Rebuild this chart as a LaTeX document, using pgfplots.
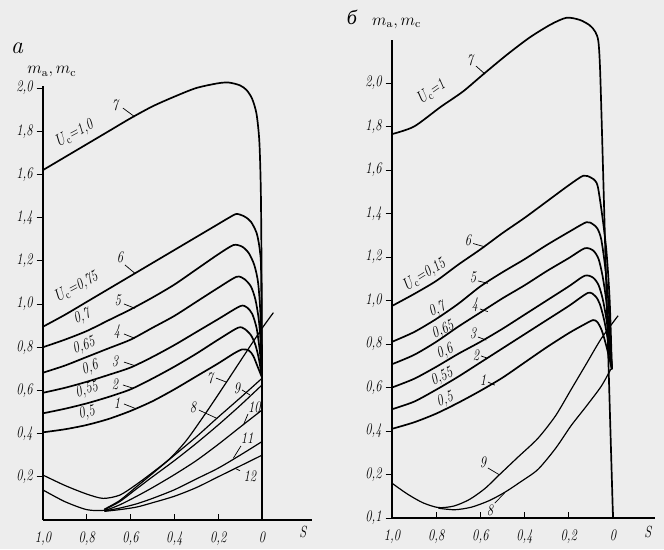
\documentclass[border=0pt]{standalone}
\usepackage{fontspec}
\usepackage{pgfplots}
\pgfplotsset{compat=1.18}
\newfontfamily\cyr{Liberation Serif}
\newcommand{\lbl}{\fontsize{11.5}{13}\selectfont\itshape}
\tikzset{ldr/.style={black, line width=0.5pt},
  tx/.style={font=\lbl, xscale=0.78, inner sep=1pt}}
\begin{document}
\begin{tikzpicture}
\useasboundingbox (0,0) rectangle (16.6,13.725);
\fill[black!7] (0,0) rectangle (16.6,13.725);
\pgfplotsset{
  panel/.style={
    x dir=reverse,
    axis lines=left,
    axis line style={-, line width=0.9pt, black},
    clip=false,
    tick align=outside,
    major tick length=1.6mm,
    tick style={black, line width=0.7pt},
    major x tick style={yshift=1.6mm},
    ticklabel style={font=\lbl, xscale=0.78},
    anchor=south west,
  },
  crv/.style={black, line width=1.2pt, smooth, tension=0.45},
  thn/.style={black, line width=0.85pt, smooth, tension=0.45},
}
% ---------------- panel a ----------------
\begin{axis}[panel, at={(1.075cm,0.725cm)}, x=5.475cm, y=5.4cm,
  xmin=-0.228, xmax=1.0, ymin=0, ymax=2.01,
  xtick={1,0.8,0.6,0.4,0.2,0}, xticklabels={{1,0},{0,8},{0,6},{0,4},{0,2},0},
  ytick={0.2,0.4,0.6,0.8,1.0,1.2,1.4,1.6,1.8,2.0},
  yticklabels={{0,2},{0,4},{0,6},{0,8},{1,0},{1,2},{1,4},{1,6},{1,8},{2,0}}]
% curve 7 (Uc=1.0)
\addplot[crv] coordinates {(1,1.62)(0.9,1.68)(0.8,1.74)(0.7,1.80)(0.6,1.86)(0.5,1.915)(0.4,1.96)(0.3,2.0)(0.2,2.022)(0.15,2.025)(0.1,2.012)(0.07,1.99)(0.045,1.95)(0.025,1.88)(0.012,1.75)(0.005,1.5)(0.001,1.0)(0,0.5)(0,0)};
% curve 6 (0.75)
\addplot[crv] coordinates {(1,0.895)(0.9,0.95)(0.8,1.01)(0.7,1.07)(0.6,1.13)(0.5,1.19)(0.4,1.25)(0.3,1.31)(0.2,1.37)(0.15,1.40)(0.116,1.417)(0.08,1.405)(0.05,1.38)(0.024,1.327)(0.01,1.25)(0.004,1.15)(0,0.66)};
% curve 5 (0.7)
\addplot[crv] coordinates {(1,0.80)(0.9,0.835)(0.8,0.875)(0.7,0.925)(0.6,0.975)(0.5,1.03)(0.4,1.09)(0.3,1.16)(0.2,1.23)(0.13,1.273)(0.09,1.265)(0.06,1.235)(0.035,1.18)(0.018,1.1)(0.007,0.95)(0,0.66)};
% curve 4 (0.65)
\addplot[crv] coordinates {(1,0.682)(0.9,0.715)(0.8,0.755)(0.7,0.795)(0.6,0.835)(0.5,0.89)(0.4,0.945)(0.3,1.01)(0.2,1.075)(0.116,1.126)(0.08,1.115)(0.05,1.08)(0.03,1.02)(0.015,0.93)(0.006,0.82)(0,0.66)};
% curve 3 (0.6)
\addplot[crv] coordinates {(1,0.589)(0.9,0.612)(0.8,0.64)(0.7,0.672)(0.6,0.706)(0.5,0.755)(0.4,0.81)(0.3,0.87)(0.2,0.93)(0.1,0.99)(0.07,0.985)(0.045,0.955)(0.025,0.89)(0.012,0.8)(0.004,0.72)(0,0.66)};
% curve 2 (0.55)
\addplot[crv] coordinates {(1,0.494)(0.9,0.515)(0.8,0.54)(0.7,0.57)(0.6,0.605)(0.5,0.655)(0.4,0.71)(0.3,0.77)(0.2,0.835)(0.11,0.89)(0.08,0.885)(0.05,0.855)(0.03,0.81)(0.015,0.75)(0.005,0.69)(0,0.66)};
% curve 1 (0.5)
\addplot[crv] coordinates {(1,0.406)(0.9,0.42)(0.8,0.44)(0.7,0.468)(0.6,0.505)(0.5,0.55)(0.4,0.605)(0.3,0.665)(0.2,0.725)(0.13,0.77)(0.09,0.79)(0.06,0.785)(0.04,0.76)(0.02,0.71)(0,0.66)};
% lower curves 7-12
\addplot[thn] coordinates {(1,0.208)(0.9,0.16)(0.8,0.12)(0.725,0.10)(0.65,0.115)(0.58,0.16)(0.5,0.22)(0.42,0.285)(0.344,0.37)(0.25,0.505)(0.161,0.64)(0.08,0.765)(0,0.887)(-0.052,0.96)};
\addplot[thn] coordinates {(0.72,0.05)(0.65,0.09)(0.572,0.155)(0.5,0.215)(0.4,0.3)(0.3,0.385)(0.207,0.47)(0.1,0.565)(0,0.656)};
\addplot[thn] coordinates {(0.72,0.048)(0.65,0.085)(0.572,0.145)(0.5,0.2)(0.4,0.275)(0.3,0.355)(0.2,0.44)(0.1,0.53)(0,0.625)};
\addplot[thn] coordinates {(1,0.139)(0.9,0.085)(0.8,0.048)(0.72,0.045)(0.65,0.07)(0.572,0.11)(0.5,0.15)(0.4,0.21)(0.3,0.275)(0.2,0.35)(0.1,0.43)(0,0.509)};
\addplot[thn] coordinates {(0.72,0.042)(0.65,0.055)(0.572,0.075)(0.5,0.1)(0.4,0.14)(0.3,0.19)(0.2,0.24)(0.1,0.3)(0,0.363)};
\addplot[thn] coordinates {(0.72,0.04)(0.65,0.048)(0.572,0.06)(0.5,0.08)(0.4,0.11)(0.3,0.15)(0.2,0.2)(0.1,0.25)(0,0.30)};
% texts
\node[font=\LARGE\itshape] at (axis cs:1.119,2.185) {a};
\node[font=\fontsize{12}{14}\selectfont] at (axis cs:0.959,2.075) {$m_{\mathrm{a}}, m_{\mathrm{c}}$};
\node[tx] at (axis cs:-0.187,-0.056) {S};
\node[tx] at (axis cs:0.671,1.921) {7};
\draw[ldr] (axis cs:0.635,1.907) -- (axis cs:0.58,1.866);
\node[rotate=28, tx] at (axis cs:0.854,1.79) {$U_{\mathrm{c}}$=1,0};
\node[tx] at (axis cs:0.648,1.218) {6};
\draw[ldr] (axis cs:0.626,1.181) -- (axis cs:0.58,1.142);
\node[rotate=28, tx] at (axis cs:0.845,1.08) {$U_{\mathrm{c}}$=0,75};
\node[tx] at (axis cs:0.658,1.019) {5};
\draw[ldr] (axis cs:0.63,1.0) -- (axis cs:0.58,0.98);
\node[rotate=22, tx] at (axis cs:0.822,0.94) {0,7};
\node[tx] at (axis cs:0.662,0.87) {4};
\draw[ldr] (axis cs:0.63,0.861) -- (axis cs:0.58,0.841);
\node[rotate=20, tx] at (axis cs:0.813,0.805) {0,65};
\node[tx] at (axis cs:0.671,0.736) {3};
\draw[ldr] (axis cs:0.63,0.731) -- (axis cs:0.58,0.714);
\node[rotate=20, tx] at (axis cs:0.785,0.704) {0,6};
\node[tx] at (axis cs:0.671,0.63) {2};
\draw[ldr] (axis cs:0.635,0.625) -- (axis cs:0.588,0.61);
\node[rotate=18, tx] at (axis cs:0.80,0.602) {0,55};
\node[tx] at (axis cs:0.662,0.542) {1};
\draw[ldr] (axis cs:0.63,0.537) -- (axis cs:0.58,0.517);
\node[rotate=15, tx] at (axis cs:0.80,0.495) {0,5};
\node[tx] at (axis cs:0.237,0.657) {7};
\draw[ldr] (axis cs:0.21,0.657) -- (axis cs:0.164,0.639);
\node[tx] at (axis cs:0.315,0.523) {8};
\draw[ldr] (axis cs:0.288,0.509) -- (axis cs:0.207,0.471);
\node[tx] at (axis cs:0.114,0.611) {9};
\draw[ldr] (axis cs:0.091,0.602) -- (axis cs:0.055,0.579);
\node[tx] at (axis cs:0.035,0.523) {10};
\draw[ldr] (axis cs:0.064,0.491) -- (axis cs:0.085,0.44);
\node[tx] at (axis cs:0.068,0.38) {11};
\draw[ldr] (axis cs:0.096,0.343) -- (axis cs:0.131,0.286);
\node[tx] at (axis cs:0.055,0.204) {12};
\draw[ldr] (axis cs:0.1,0.228) -- (axis cs:0.123,0.239);
\end{axis}
% ---------------- panel b ----------------
\begin{axis}[panel, at={(9.8cm,0.775cm)}, x=5.525cm, y=5.4375cm,
  xmin=-0.19, xmax=1.0, ymin=0, ymax=2.2,
  xtick={1,0.8,0.6,0.4,0.2,0}, xticklabels={{1,0},{0,8},{0,6},{0,4},{0,2},0},
  ytick={0,0.2,0.4,0.6,0.8,1.0,1.2,1.4,1.6,1.8,2.0},
  yticklabels={{0,1},{0,2},{0,4},{0,6},{0,8},{1,0},{1,2},{1,4},{1,6},{1,8},{2,0}}]
% curve 7 (Uc=1)
\addplot[crv] coordinates {(1,1.765)(0.9,1.80)(0.78,1.89)(0.68,1.96)(0.587,2.04)(0.48,2.13)(0.376,2.21)(0.28,2.27)(0.21,2.30)(0.15,2.29)(0.105,2.265)(0.08,2.235)(0.066,2.19)(0.058,2.05)(0.045,1.6)(0.03,1.05)(0.015,0.52)(0,0)};
% curve 6
\addplot[crv] coordinates {(1,0.975)(0.9,1.03)(0.8,1.09)(0.7,1.165)(0.6,1.235)(0.5,1.31)(0.4,1.38)(0.3,1.455)(0.2,1.53)(0.134,1.574)(0.1,1.565)(0.08,1.55)(0.068,1.52)(0.05,1.40)(0.03,1.23)(0.015,1.0)(0.005,0.684)};
% curve 5
\addplot[crv] coordinates {(1,0.81)(0.9,0.855)(0.8,0.915)(0.7,0.985)(0.6,1.065)(0.5,1.13)(0.4,1.19)(0.3,1.255)(0.2,1.315)(0.12,1.36)(0.09,1.35)(0.07,1.33)(0.053,1.28)(0.035,1.15)(0.02,0.98)(0.005,0.684)};
% curve 4
\addplot[crv] coordinates {(1,0.707)(0.9,0.75)(0.8,0.81)(0.7,0.88)(0.6,0.945)(0.5,1.01)(0.4,1.07)(0.3,1.135)(0.2,1.195)(0.128,1.24)(0.09,1.23)(0.065,1.19)(0.045,1.1)(0.025,0.95)(0.005,0.684)};
% curve 3
\addplot[crv] coordinates {(1,0.6)(0.9,0.64)(0.8,0.695)(0.7,0.755)(0.6,0.81)(0.5,0.87)(0.4,0.935)(0.3,1.0)(0.2,1.065)(0.128,1.114)(0.09,1.105)(0.065,1.07)(0.045,1.0)(0.025,0.88)(0.005,0.684)};
% curve 2
\addplot[crv] coordinates {(1,0.5)(0.9,0.535)(0.8,0.59)(0.7,0.65)(0.6,0.715)(0.5,0.78)(0.4,0.845)(0.3,0.91)(0.2,0.975)(0.113,1.035)(0.08,1.02)(0.06,0.985)(0.04,0.91)(0.02,0.8)(0.005,0.684)};
% curve 1
\addplot[crv] coordinates {(1,0.41)(0.9,0.44)(0.8,0.48)(0.7,0.53)(0.6,0.585)(0.5,0.645)(0.4,0.715)(0.3,0.785)(0.2,0.85)(0.13,0.89)(0.09,0.91)(0.07,0.90)(0.05,0.86)(0.03,0.79)(0.005,0.684)};
% curve 9
\addplot[thn] coordinates {(1,0.16)(0.93,0.11)(0.86,0.07)(0.79,0.048)(0.72,0.055)(0.65,0.085)(0.58,0.135)(0.513,0.2)(0.43,0.28)(0.34,0.366)(0.26,0.47)(0.19,0.59)(0.12,0.71)(0.053,0.825)(-0.023,0.93)};
% curve 8
\addplot[thn] coordinates {(0.79,0.045)(0.716,0.038)(0.64,0.05)(0.56,0.08)(0.49,0.118)(0.42,0.165)(0.34,0.223)(0.26,0.32)(0.19,0.424)(0.12,0.515)(0.053,0.606)(0.01,0.684)};
% texts
\node[font=\Large\cyr\itshape] at (axis cs:1.181,2.303) {б};
\node[font=\fontsize{12}{14}\selectfont] at (axis cs:0.979,2.275) {$m_{\mathrm{a}}, m_{\mathrm{c}}$};
\node[tx] at (axis cs:-0.158,-0.064) {S};
\node[tx] at (axis cs:0.647,2.106) {7};
\draw[ldr] (axis cs:0.62,2.078) -- (axis cs:0.579,2.041);
\node[rotate=35, tx] at (axis cs:0.82,1.96) {$U_{\mathrm{c}}$=1};
\node[tx] at (axis cs:0.656,1.278) {6};
\draw[ldr] (axis cs:0.633,1.262) -- (axis cs:0.581,1.247);
\node[rotate=32, tx] at (axis cs:0.851,1.12) {$U_{\mathrm{c}}$=0,15};
\node[tx] at (axis cs:0.633,1.108) {5};
\draw[ldr] (axis cs:0.611,1.09) -- (axis cs:0.566,1.079);
\node[rotate=25, tx] at (axis cs:0.796,0.956) {0,7};
\node[tx] at (axis cs:0.624,0.979) {4};
\draw[ldr] (axis cs:0.602,0.961) -- (axis cs:0.566,0.949);
\node[rotate=25, tx] at (axis cs:0.769,0.864) {0,65};
\node[tx] at (axis cs:0.633,0.851) {3};
\draw[ldr] (axis cs:0.611,0.832) -- (axis cs:0.573,0.818);
\node[rotate=25, tx] at (axis cs:0.76,0.763) {0,6};
\node[tx] at (axis cs:0.62,0.749) {2};
\draw[ldr] (axis cs:0.597,0.745) -- (axis cs:0.566,0.734);
\node[rotate=25, tx] at (axis cs:0.774,0.648) {0,55};
\node[tx] at (axis cs:0.588,0.634) {1};
\draw[ldr] (axis cs:0.566,0.625) -- (axis cs:0.535,0.611);
\node[rotate=20, tx] at (axis cs:0.76,0.543) {0,5};
\node[tx] at (axis cs:0.588,0.257) {9};
\draw[ldr] (axis cs:0.566,0.23) -- (axis cs:0.513,0.198);
\node[tx] at (axis cs:0.557,0.037) {8};
\draw[ldr] (axis cs:0.535,0.068) -- (axis cs:0.49,0.116);
\end{axis}
\end{tikzpicture}
\end{document}
